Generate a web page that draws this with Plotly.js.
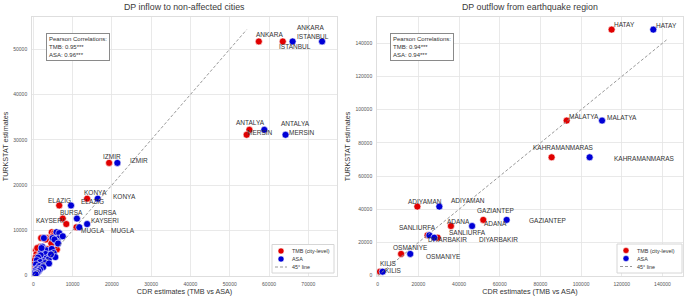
<!DOCTYPE html>
<html>
<head>
<meta charset="utf-8">
<script src="https://cdn.plot.ly/plotly-3.0.1.min.js"></script>
<style>html,body{margin:0;padding:0;background:#fff;}#chart{width:685px;height:298px;}</style>
</head>
<body>
<div id="chart"></div>
<script>
// ---------- Data: DP inflow to non-affected cities ----------
var inCities   = ['ISTANBUL','ANKARA','ANTALYA','MERSIN','IZMIR','KONYA','ELAZIG','BURSA','KAYSERI','MUGLA'];
var inTurkstat = [51700, 51700, 32200, 31100, 24900, 17000, 15500, 12600, 11400, 10700];
var inTMB      = [63500, 57400, 55000, 54300, 19300, 13700, 6600, 7500, 8400, 11000];
var inASA      = [73500, 66000, 58800, 64200, 21400, 16400, 9600, 11100, 13700, 11700];
// remaining (unlabelled) provinces
var inOtherTurkstat = [9600, 9400, 8300, 8300, 8200, 8700, 7600, 7400, 8000, 6400, 5800, 5600, 5900, 5200, 5000, 4800, 4500, 4300, 4000, 3800, 3600, 3400, 3200, 3000, 2800, 2500, 2300, 2100, 1900, 1600, 1400, 1200, 1000, 800, 600, 400, 300, 4100, 2700, 4700, 6100, 7100];
var inOtherTMB      = [4700, 5300, 2000, 3600, 4300, 5000, 4500, 5000, 3200, 1700, 6000, 700, 3500, 1200, 2500, 800, 1500, 2200, 600, 1800, 2400, 400, 1300, 900, 2000, 300, 1100, 700, 1600, 400, 900, 300, 600, 200, 400, 100, 200, 3000, 2800, 3900, 1000, 4600];
var inOtherASA      = [5900, 6600, 2700, 4900, 6300, 7500, 5800, 6200, 5400, 2300, 4700, 3300, 4700, 2000, 5200, 3100, 1900, 4200, 1200, 3300, 3900, 900, 2600, 1800, 3000, 700, 2200, 1500, 2500, 1000, 1700, 600, 1300, 500, 900, 300, 600, 5600, 4000, 4500, 2100, 6300];
var inDiag = [0, 54300];
var inCorr = ['0.95***', '0.96***'];

// ---------- Data: DP outflow from earthquake region ----------
var outCities   = ['HATAY','MALATYA','KAHRAMANMARAS','ADIYAMAN','GAZIANTEP','ADANA','SANLIURFA','DIYARBAKIR','OSMANIYE','KILIS'];
var outTurkstat = [148200, 93400, 71300, 41600, 33600, 29900, 24300, 22900, 13100, 2400];
var outTMB      = [115000, 92900, 85500, 19500, 51900, 36000, 24500, 29500, 11500, 1100];
var outASA      = [135500, 110300, 104200, 30300, 63400, 46400, 25400, 27800, 16000, 2400];
var outDiag = [0, 142000];
var outCorr = ['0.94***', '0.94***'];

var legendNames = ['TMB (city-level)', 'ASA', '45° line'];

// ---------- Label offsets (pixels, style only) ----------
var inShiftTMB  = [[12,-5],[11,7],[1,7],[13,2],[3,6],[8,6],[0,5],[9,6],[-16,4],[16,-3]];
var inShiftASA  = [[-9,5],[18,14],[31,6],[16,2],[22,2],[27,2],[21,4],[29,6],[18,4],[44,-3]];
var outShiftTMB = [[13,5],[17,4],[12,10],[8,5],[12,9],[8,5],[-10,8],[10,-2],[9,6],[9,8]];
var outShiftASA = [[13,4],[20,3],[55,-1],[29,6],[41,-1],[23,3],[38,3],[64,-2],[33,-3],[11,1]];

var W = 685, H = 298;
var RED = '#e00000', BLUE = '#0000d6', TXT = '#333333', DIAG = '#8c8c8c';
var DASH = '3px,2px';
var FONT = 'Liberation Sans, Arial, sans-serif';

function marker(c){ return {color:c, size:7, line:{color:'#ffffff', width:0.6}}; }

var traces = [
  {x: inTMB.concat(inOtherTMB), y: inTurkstat.concat(inOtherTurkstat), type:'scatter', mode:'markers',
   name:legendNames[0], marker: marker(RED), xaxis:'x', yaxis:'y'},
  {x: inASA.concat(inOtherASA), y: inTurkstat.concat(inOtherTurkstat), type:'scatter', mode:'markers',
   name:legendNames[1], marker: marker(BLUE), xaxis:'x', yaxis:'y'},
  {x: inDiag, y: inDiag, type:'scatter', mode:'lines', name:legendNames[2],
   line:{color:DIAG, width:0.9, dash:DASH}, xaxis:'x', yaxis:'y'},
  {x: outTMB, y: outTurkstat, type:'scatter', mode:'markers',
   name:legendNames[0], marker: marker(RED), xaxis:'x2', yaxis:'y2'},
  {x: outASA, y: outTurkstat, type:'scatter', mode:'markers',
   name:legendNames[1], marker: marker(BLUE), xaxis:'x2', yaxis:'y2'},
  {x: outDiag, y: outDiag, type:'scatter', mode:'lines', name:legendNames[2],
   line:{color:DIAG, width:0.9, dash:DASH}, xaxis:'x2', yaxis:'y2'}
];

var annotations = [];
var shapes = [];
function addLabels(names, xs, ys, shifts, xr, yr){
  for (var i=0;i<names.length;i++){
    annotations.push({x:xs[i], y:ys[i], xref:xr, yref:yr, text:names[i], showarrow:false,
      xshift:shifts[i][0], yshift:shifts[i][1], font:{size:6.5, color:TXT, family:FONT}});
  }
}
addLabels(inCities, inTMB, inTurkstat, inShiftTMB, 'x', 'y');
addLabels(inCities, inASA, inTurkstat, inShiftASA, 'x', 'y');
addLabels(outCities, outTMB, outTurkstat, outShiftTMB, 'x2', 'y2');
addLabels(outCities, outASA, outTurkstat, outShiftASA, 'x2', 'y2');

function px(v){ return v / W; }
function py(v){ return (H - v) / H; }

function corrBox(x, corr){
  return {xref:'paper', yref:'paper', x:px(x), y:py(33), xanchor:'left', yanchor:'top',
    text:'Pearson Correlations:<br>TMB: '+corr[0]+'<br>ASA: '+corr[1], align:'left', showarrow:false,
    bordercolor:'#8a8a8a', borderwidth:1, borderpad:2, bgcolor:'#ffffff',
    font:{size:6, color:TXT, family:FONT}};
}
annotations.push(corrBox(46, inCorr));
annotations.push(corrBox(390, outCorr));
annotations.push({xref:'paper', yref:'paper', x:px(184.5), y:py(7), text:'DP inflow to non-affected cities',
  showarrow:false, font:{size:8.8, color:'#3a3a3a', family:FONT}, xanchor:'center', yanchor:'middle'});
annotations.push({xref:'paper', yref:'paper', x:px(530), y:py(7), text:'DP outflow from earthquake region',
  showarrow:false, font:{size:8.8, color:'#3a3a3a', family:FONT}, xanchor:'center', yanchor:'middle'});

// manual compact legend (box geometry in pixels)
function legendBox(x0, x1, y0, y1){
  shapes.push({type:'rect', xref:'paper', yref:'paper', x0:px(x0), x1:px(x1), y0:py(y1), y1:py(y0),
    line:{color:'#d6d6d6', width:1}, fillcolor:'#ffffff', layer:'above'});
  var sx = x0 + 9, tx = x0 + 18;
  var rows = [y0 + 6.5, y0 + 14.5, y0 + 22.5];
  var cols = [RED, BLUE];
  for (var i=0;i<2;i++){
    shapes.push({type:'circle', xref:'paper', yref:'paper', x0:px(sx-3), x1:px(sx+3), y0:py(rows[i]+3), y1:py(rows[i]-3),
      fillcolor:cols[i], line:{color:'#ffffff', width:0.5}, layer:'above'});
  }
  shapes.push({type:'line', xref:'paper', yref:'paper', x0:px(sx-6), x1:px(sx+6), y0:py(rows[2]), y1:py(rows[2]),
    line:{color:DIAG, width:0.9, dash:DASH}, layer:'above'});
  for (var j=0;j<3;j++){
    annotations.push({xref:'paper', yref:'paper', x:px(tx), y:py(rows[j]), xanchor:'left', yanchor:'middle',
      text:legendNames[j], showarrow:false, font:{size:5.4, color:TXT, family:FONT}});
  }
}
legendBox(272, 334, 244.5, 273);
legendBox(617, 682, 244, 273);

var GRID = '#e3e3e3';
function ax(domain, range, dtick, title, anchor){
  return {domain:domain, range:range, dtick:dtick, tick0:0, tickformat:'d', showgrid:true, gridcolor:GRID, gridwidth:0.8,
    zeroline:false, showline:true, mirror:true, linecolor:'#d6d6d6', linewidth:0.8, ticks:'', ticklabelstandoff:3,
    tickfont:{size:5, color:'#555', family:FONT}, anchor:anchor,
    title:{text:title, font:{size:7.2, color:TXT, family:FONT}, standoff:3}};
}
var ydom = [py(276), py(17)];
var layout = {
  width:W, height:H, margin:{l:0,r:0,t:0,b:0}, paper_bgcolor:'#ffffff', plot_bgcolor:'#ffffff',
  font:{family:FONT, color:TXT},
  showlegend:false,
  xaxis: ax([px(32), px(337)], [-330, 77300], 10000, 'CDR estimates (TMB vs ASA)', 'y'),
  yaxis: ax(ydom, [-70, 57100], 10000, 'TURKSTAT estimates', 'x'),
  xaxis2: ax([px(377), px(683)], [-350, 150100], 20000, 'CDR estimates (TMB vs ASA)', 'y2'),
  yaxis2: ax(ydom, [-200, 155800], 20000, 'TURKSTAT estimates', 'x2'),
  annotations: annotations,
  shapes: shapes
};
Plotly.newPlot('chart', traces, layout, {displayModeBar:false, staticPlot:true});
</script>
</body>
</html>
